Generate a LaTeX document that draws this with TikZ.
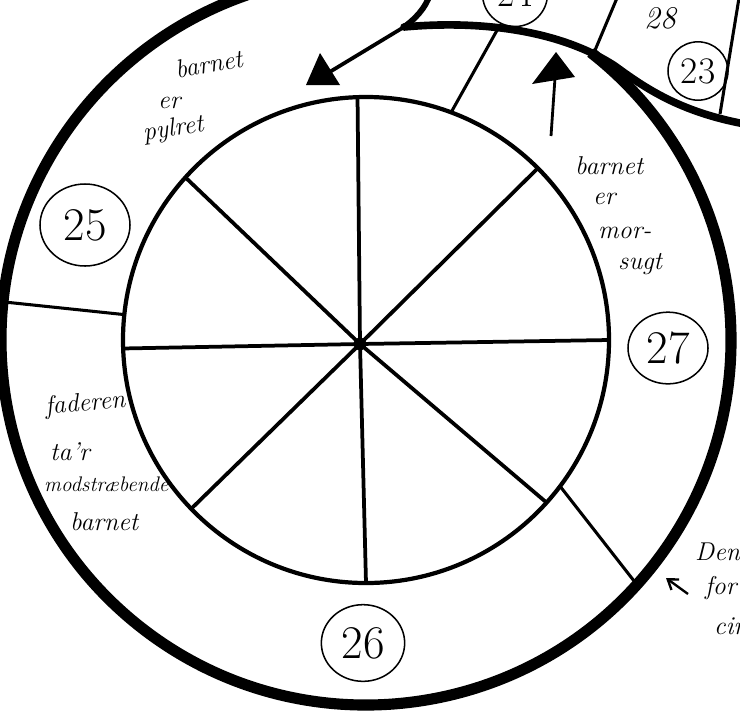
\documentclass[tikz,border=0pt]{standalone}
\usepackage{tikz}
\usetikzlibrary{arrows.meta,shapes,calc}

\tikzset{
  rim/.style={line width=3.6pt},
  spoke/.style={line width=3.2pt},
  wall/.style={line width=2.6pt},
  numring/.style={draw,ellipse,line width=1.3pt,inner sep=0pt,font=\fontsize{40}{40}\selectfont},
  hand/.style={font=\fontsize{22}{24}\selectfont\itshape,anchor=west,inner sep=0pt}
}

\begin{document}
\begin{tikzpicture}[x=0.03cm,y=-0.03cm,>=stealth]
\useasboundingbox (0,0) rectangle (740,718);
\clip (0,0) rectangle (740,718);
\coordinate (c) at (366,340);
% board
\draw[line width=9.5pt] (c) ++(-52:365) arc[start angle=-52,end angle=255,radius=365];
\draw[rim] (c) circle[radius=243];
\node[circle,fill,inner sep=0pt,minimum size=0.38cm] (hub) at (360,344) {};
\foreach \a in {0,42,90,136,178,222,268,315}
  \draw[spoke] (hub.center) -- ($(c)+(\a:243)$);
\draw[wall] ($(c)+(186:243)$) -- ($(c)+(186:365)$);
\draw[wall] ($(c)+(37:243)$) -- ($(c)+(42:362)$);
\draw[wall] ($(c)+(-69.5:243)$) -- ($(c)+(-67:340)$);
% track
\coordinate (bend) at (404,27);
\draw[line width=5pt] (430,-6) .. controls (426,8) and (414,20) .. (bend);
\draw[line width=6.5pt,line cap=round] (bend) .. controls (480,20) and (560,30) .. (615,66)
  .. controls (645,88) and (680,112) .. (745,124);
\draw[wall] (593,55) -- (617,-2);
\draw[wall] (720,114) -- (739,-2);
% arrows
\coordinate (tip1) at (328,73);
\draw[line width=3.2pt] (bend) -- (tip1);
\fill (306,85) -- (320,53) -- (340,85) -- cycle;
\coordinate (foot2) at (551,136);
\coordinate (tip2) at (555,78);
\draw[line width=2.4pt] (foot2) -- (tip2);
\fill (532,84) -- (556,52) -- (575,77) -- cycle;
% numbers
\node[numring,minimum width=2.7cm,minimum height=2.46cm] (n25) at (85,225) {25};
\node[numring,minimum width=2.5cm,minimum height=2.3cm] (n26) at (363,643) {26};
\node[numring,minimum width=2.4cm,minimum height=2.15cm] (n27) at (668,348) {27};
\node[numring,minimum width=1.8cm,minimum height=1.75cm,font=\fontsize{32}{32}\selectfont] (n23) at (698,71) {23};
\node[numring,minimum size=1.95cm,font=\fontsize{32}{32}\selectfont] (n24) at (515,-6) {24};
\node[font=\fontsize{27}{27}\selectfont\itshape] (n28) at (660,18) {28};
% texts
\node[hand,rotate=10] (pa) at (175,70) {barnet};
\node[hand] (pb) at (158,103) {er};
\node[hand,rotate=8] (pc) at (143,134) {pylret};
\node[hand] (ma) at (575,166) {barnet};
\node[hand] (mb) at (593,199) {er};
\node[hand] (mc) at (598,233) {mor-};
\node[hand] (md) at (618,264) {sugt};
\node[hand,rotate=5] (fa) at (45,408) {faderen};
\node[hand] (fb) at (50,452) {ta'r};
\node[hand,font=\fontsize{18}{20}\selectfont\itshape] (fc) at (44,484) {modstræbende};
\node[hand] (fd) at (70,522) {barnet};
\node[hand] (da) at (695,552) {Den};
\node[hand] (db) at (705,588) {for};
\node[hand] (dc) at (714,626) {cir};
\coordinate (dtail) at (688,594);
\coordinate (dtip) at (666,578);
\draw[line width=2pt,-{Straight Barb[length=8pt,width=11pt]}] (dtail) -- (dtip);
\end{tikzpicture}
\end{document}
